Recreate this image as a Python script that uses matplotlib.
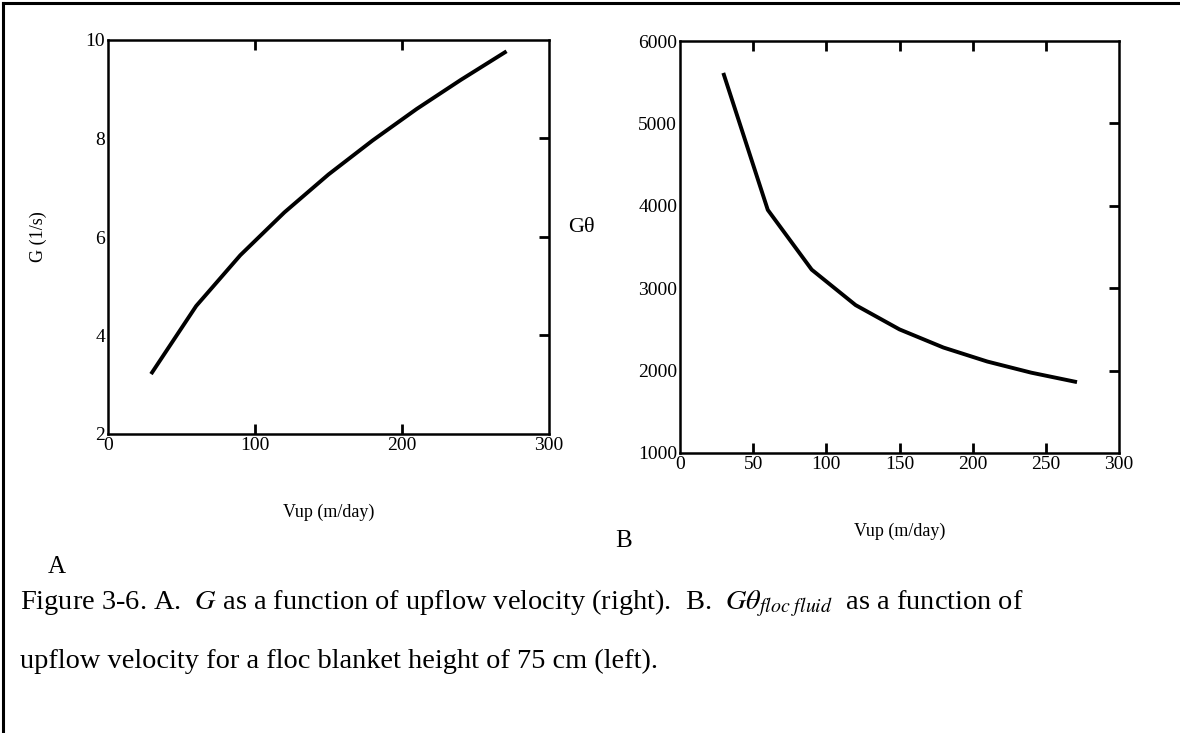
import matplotlib.pyplot as plt
from matplotlib.lines import Line2D

plt.rcParams['font.family'] = ['Liberation Serif', 'DejaVu Serif']
plt.rcParams['mathtext.fontset'] = 'stix'

# upflow velocity (m/day)
vup = [30, 60, 90, 120, 150, 180, 210, 240, 270]
# A: velocity gradient G (1/s)
g_values = [3.25, 4.6, 5.63, 6.5, 7.27, 7.96, 8.6, 9.19, 9.75]
# B: G theta for 75 cm floc blanket
gtheta_values = [5590, 3950, 3225, 2795, 2500, 2280, 2110, 1975, 1865]

fig = plt.figure(figsize=(11.8, 7.33), dpi=100)

def style_axes(ax, xticks, yticks):
    ax.set_xticks(xticks)
    ax.set_yticks(yticks)
    ax.tick_params(axis='both', which='major', labelsize=14, length=0, pad=2)
    for s in ax.spines.values():
        s.set_linewidth(1.8)
    # inward tick marks on top, bottom and right (inner ticks only)
    sec_top = ax.secondary_xaxis('top')
    sec_top.set_xticks(xticks[1:-1])
    sec_top.tick_params(direction='in', length=7, width=2, labeltop=False)
    sec_top.spines['top'].set_visible(False)
    sec_bot = ax.secondary_xaxis('bottom')
    sec_bot.set_xticks(xticks[1:-1])
    sec_bot.tick_params(direction='in', length=7, width=2, labelbottom=False)
    sec_bot.spines['bottom'].set_visible(False)
    sec_r = ax.secondary_yaxis('right')
    sec_r.set_yticks(yticks[1:-1])
    sec_r.tick_params(direction='in', length=7, width=2, labelright=False)
    sec_r.spines['right'].set_visible(False)

# Panel A
ax1 = fig.add_axes([108 / 1180, 1 - 434 / 733, 441 / 1180, 394 / 733])
ax1.plot(vup, g_values, color='black', linewidth=2.8)
ax1.set_xlim(0, 300)
ax1.set_ylim(2, 10)
style_axes(ax1, [0, 100, 200, 300], [2, 4, 6, 8, 10])
ax1.set_xlabel('Vup (m/day)', fontsize=13, labelpad=36)
ax1.set_ylabel('G (1/s)', fontsize=13, labelpad=28)

# Panel B
ax2 = fig.add_axes([680 / 1180, 1 - 453 / 733, 439 / 1180, 412 / 733])
ax2.plot(vup, gtheta_values, color='black', linewidth=2.8)
ax2.set_xlim(0, 300)
ax2.set_ylim(1000, 6000)
style_axes(ax2, [0, 50, 100, 150, 200, 250, 300], [1000, 2000, 3000, 4000, 5000, 6000])
ax2.set_xlabel('Vup (m/day)', fontsize=13, labelpad=36)
fig.text(568 / 1180, 1 - 228 / 733, 'G\u03b8', fontsize=16, ha='left', va='center')

# panel letters
fig.text(48 / 1180, 1 - 567 / 733, 'A', fontsize=18, ha='left', va='center')
fig.text(615 / 1180, 1 - 541 / 733, 'B', fontsize=18, ha='left', va='center')

# caption
fig.text(20 / 1180, 1 - 603 / 733,
         r'Figure 3-6. A.  $G$ as a function of upflow velocity (right).  B.  '
         r'$G\theta_{floc\ fluid}$  as a function of',
         fontsize=20.4, ha='left', va='center')
fig.text(20 / 1180, 1 - 661 / 733,
         'upflow velocity for a floc blanket height of 75 cm (left).',
         fontsize=20.4, ha='left', va='center')

# page frame (top and left edges)
fig.add_artist(Line2D([3 / 1180, 3 / 1180], [0, 1 - 3 / 733], color='black', linewidth=2.2,
                      transform=fig.transFigure))
fig.add_artist(Line2D([3 / 1180, 1], [1 - 3 / 733, 1 - 3 / 733], color='black', linewidth=2.2,
                      transform=fig.transFigure))

fig.savefig('out.png', dpi=100)
